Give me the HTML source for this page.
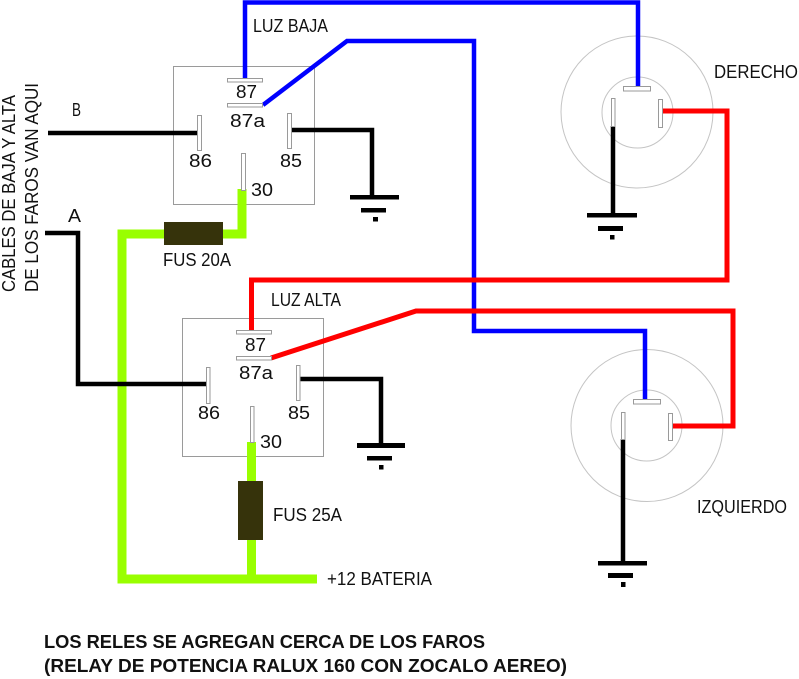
<!DOCTYPE html>
<html>
<head>
<meta charset="utf-8">
<style>
html,body{margin:0;padding:0;background:#fff;}
svg{display:block;}
text{font-family:"Liberation Sans",sans-serif;fill:#111;}
</style>
</head>
<body>
<svg width="799" height="679" viewBox="0 0 799 679" xmlns="http://www.w3.org/2000/svg">
<rect width="799" height="679" fill="#fff"/>

<!-- relay boxes -->
<rect x="173.5" y="66.5" width="141" height="138" fill="none" stroke="#9a9a9a" stroke-width="1"/>
<rect x="182.5" y="318.5" width="141" height="138" fill="none" stroke="#9a9a9a" stroke-width="1"/>

<!-- lamp circles -->
<circle cx="637" cy="112" r="76" fill="none" stroke="#c4c4c4" stroke-width="1"/>
<circle cx="637.5" cy="112.5" r="35.5" fill="none" stroke="#c4c4c4" stroke-width="1"/>
<circle cx="647" cy="425.5" r="76" fill="none" stroke="#c4c4c4" stroke-width="1"/>
<circle cx="646.5" cy="425.5" r="35.5" fill="none" stroke="#c4c4c4" stroke-width="1"/>

<!-- green power wires -->
<g fill="none" stroke="#99ff00" stroke-width="9" stroke-linejoin="miter">
<polyline points="242,189 242,234 200,234"/>
<polyline points="190,234 122,234 122,579 317,579"/>
<polyline points="251.5,442 251.5,579"/>
</g>
<!-- fuses -->
<rect x="164" y="222" width="59" height="23" fill="#36330b"/>
<rect x="238" y="481" width="25" height="59" fill="#36330b"/>

<!-- black wires -->
<g fill="none" stroke="#000" stroke-width="4.5" stroke-linejoin="miter">
<polyline points="48,133 199,133"/>
<polyline points="292,130 372,130 372,197"/>
<polyline points="45,233 78,233 78,384 208,384"/>
<polyline points="300,379 381,379 381,445"/>
<polyline points="613,126 613,215"/>
<polyline points="623,439 623,563"/>
</g>

<!-- grounds -->
<g fill="#000">
<rect x="350" y="195" width="49" height="4.5"/>
<rect x="361" y="208" width="25" height="4.5"/>
<rect x="373" y="217" width="5" height="4.5"/>
<rect x="357" y="443" width="48" height="5"/>
<rect x="367" y="456" width="25" height="4.5"/>
<rect x="379" y="465" width="4.5" height="4.5"/>
<rect x="587" y="213" width="50" height="4.5"/>
<rect x="598" y="226" width="25" height="5"/>
<rect x="610" y="235" width="4.5" height="4.5"/>
<rect x="598" y="561" width="49" height="4.5"/>
<rect x="608" y="573" width="25" height="5"/>
<rect x="621" y="582" width="4.5" height="5"/>
</g>

<!-- blue wires -->
<g fill="none" stroke="#0000ff" stroke-width="4.5" stroke-linejoin="miter">
<polyline points="245,79 245,2.5 638,2.5 638,86"/>
<polyline points="263,105 347,41 474,41 474,331 645,331 645,400"/>
</g>

<!-- red wires -->
<g fill="none" stroke="#ff0000" stroke-width="5" stroke-linejoin="miter">
<polyline points="251.5,331 251.5,280 727,280 727,111 663,111"/>
<polyline points="271,358 416,311 733,311 733,426 673,426"/>
</g>

<!-- terminal bars -->
<g fill="#fff" stroke="#9a9a9a" stroke-width="1">
<rect x="227.5" y="78.5" width="35" height="3.5"/>
<rect x="227.5" y="103.5" width="35" height="3.5"/>
<rect x="197.5" y="115.5" width="4" height="35"/>
<rect x="287.5" y="113.5" width="4" height="35"/>
<rect x="241.5" y="153.5" width="4" height="37"/>

<rect x="236.5" y="330.5" width="35" height="3.5"/>
<rect x="236.5" y="356.5" width="35" height="3.5"/>
<rect x="206.5" y="367.5" width="3.5" height="36"/>
<rect x="296.5" y="365.5" width="3.5" height="35"/>
<rect x="250.5" y="406.5" width="3.5" height="36"/>

<rect x="623.5" y="86.5" width="27" height="4.5"/>
<rect x="611.5" y="98.5" width="3.5" height="28"/>
<rect x="658.5" y="99.5" width="4" height="28"/>

<rect x="633.5" y="399.5" width="27" height="4.5"/>
<rect x="621.5" y="412.5" width="3.5" height="27"/>
<rect x="668.5" y="413.5" width="4" height="27"/>
</g>

<!-- labels -->
<g font-size="18">
<text x="253" y="32" textLength="75" lengthAdjust="spacingAndGlyphs">LUZ BAJA</text>
<text x="236" y="98" textLength="21" lengthAdjust="spacingAndGlyphs">87</text>
<text x="230" y="127" textLength="35" lengthAdjust="spacingAndGlyphs">87a</text>
<text x="189" y="167" textLength="23" lengthAdjust="spacingAndGlyphs">86</text>
<text x="280" y="167" textLength="22" lengthAdjust="spacingAndGlyphs">85</text>
<text x="251" y="196" textLength="22" lengthAdjust="spacingAndGlyphs">30</text>

<text x="271" y="306" textLength="70" lengthAdjust="spacingAndGlyphs">LUZ ALTA</text>
<text x="245" y="351" textLength="21" lengthAdjust="spacingAndGlyphs">87</text>
<text x="239" y="379" textLength="34" lengthAdjust="spacingAndGlyphs">87a</text>
<text x="198" y="419" textLength="22" lengthAdjust="spacingAndGlyphs">86</text>
<text x="288" y="419" textLength="22" lengthAdjust="spacingAndGlyphs">85</text>
<text x="260" y="448" textLength="22" lengthAdjust="spacingAndGlyphs">30</text>

<text x="72" y="116" textLength="9" lengthAdjust="spacingAndGlyphs">B</text>
<text x="68" y="222" textLength="13" lengthAdjust="spacingAndGlyphs">A</text>
<text x="163" y="266" textLength="68" lengthAdjust="spacingAndGlyphs">FUS 20A</text>
<text x="273" y="521" textLength="69" lengthAdjust="spacingAndGlyphs">FUS 25A</text>
<text x="327" y="585" textLength="105" lengthAdjust="spacingAndGlyphs">+12 BATERIA</text>
<text x="714" y="78" textLength="84" lengthAdjust="spacingAndGlyphs">DERECHO</text>
<text x="697" y="513" textLength="90" lengthAdjust="spacingAndGlyphs">IZQUIERDO</text>

<text transform="translate(15,292) rotate(-90)" textLength="197" lengthAdjust="spacingAndGlyphs">CABLES DE BAJA Y ALTA</text>
<text transform="translate(38,292) rotate(-90)" textLength="209" lengthAdjust="spacingAndGlyphs">DE LOS FAROS VAN AQUI</text>
</g>

<g font-size="18" font-weight="bold">
<text x="44" y="648" textLength="441" lengthAdjust="spacingAndGlyphs">LOS RELES SE AGREGAN CERCA DE LOS FAROS</text>
<text x="44" y="672" textLength="523" lengthAdjust="spacingAndGlyphs">(RELAY DE POTENCIA RALUX 160 CON ZOCALO AEREO)</text>
</g>
</svg>
</body>
</html>
